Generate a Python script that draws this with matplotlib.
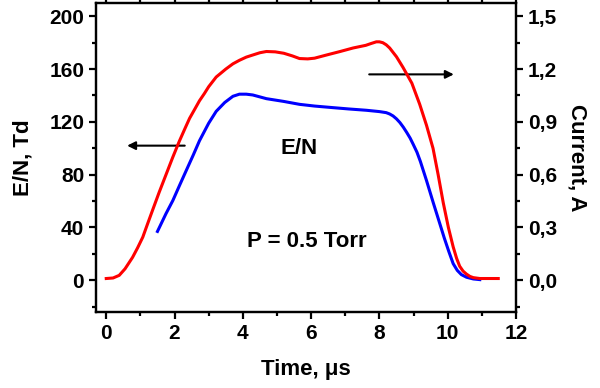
import matplotlib.pyplot as plt
from matplotlib.ticker import MultipleLocator, FuncFormatter

plt.rcParams['font.family'] = ['Liberation Sans', 'DejaVu Sans']
plt.rcParams['font.weight'] = 'bold'
plt.rcParams['font.size'] = 15

# E/N (Td) vs time (us)
t_en = [1.5, 1.75, 1.95, 2.14, 2.34, 2.55, 2.73, 3.0, 3.22, 3.47, 3.71, 3.9, 4.1,
        4.29, 4.69, 5.2, 5.66, 6.1, 6.64, 7.1, 7.62, 8.0, 8.2, 8.3, 8.4, 8.5,
        8.6, 8.7, 8.8, 8.9, 8.99, 9.1, 9.2, 9.38, 9.58, 9.77, 9.9, 10.03, 10.16,
        10.28, 10.4, 10.55, 10.75, 10.94]
en = [37, 50.5, 60.4, 71.5, 83, 95, 105.7, 119, 128, 134.7, 139.4, 141, 141,
      140.4, 137.6, 135.5, 133.3, 132, 130.8, 129.8, 128.8, 127.8, 127, 126,
      124.5, 122.3, 119.5, 116, 112, 107.7, 103, 97, 90, 75.5, 58.5, 42.8, 32,
      22, 12.6, 7.5, 4.3, 2.3, 1, 0.5]

# Current (A) vs time (us)
t_cur = [0.0, 0.2, 0.38, 0.55, 0.77, 0.92, 1.07, 1.2, 1.36, 1.55, 1.75, 1.95,
         2.14, 2.3, 2.44, 2.6, 2.73, 2.87, 3.0, 3.22, 3.5, 3.71, 3.9, 4.1, 4.29,
         4.5, 4.69, 4.95, 5.2, 5.45, 5.66, 5.9, 6.1, 6.45, 6.85, 7.23, 7.6, 7.75,
         7.91, 8.0, 8.1, 8.2, 8.3, 8.5, 8.69, 8.95, 9.18, 9.38, 9.57, 9.72, 9.87,
         10.02, 10.16, 10.26, 10.35, 10.45, 10.55, 10.65, 10.75, 10.94, 11.2, 11.48]
cur = [0.01, 0.013, 0.028, 0.065, 0.13, 0.185, 0.245, 0.315, 0.40, 0.50, 0.60, 0.70,
       0.79, 0.86, 0.92, 0.975, 1.02, 1.06, 1.1, 1.155, 1.2, 1.23, 1.25, 1.268,
       1.28, 1.293, 1.30, 1.298, 1.29, 1.275, 1.26, 1.258, 1.262, 1.28, 1.30,
       1.32, 1.335, 1.345, 1.355, 1.355, 1.35, 1.338, 1.32, 1.27, 1.21, 1.12,
       1.0, 0.88, 0.75, 0.6, 0.44, 0.3, 0.19, 0.125, 0.08, 0.052, 0.035, 0.022,
       0.015, 0.01, 0.01, 0.01]

fig = plt.figure(figsize=(6, 3.88), dpi=100)
ax = fig.add_axes([0.16, 0.196, 0.70, 0.796])
ax2 = ax.twinx()

ax.plot(t_en, en, color='#0000ff', lw=2.2)
ax2.plot(t_cur, cur, color='#ff0000', lw=2.2)

ax.set_xlim(-0.3, 12)
ax.set_ylim(-24, 210)
ax2.set_ylim(-24 * 0.0075, 210 * 0.0075)

ax.xaxis.set_major_locator(MultipleLocator(2))
ax.xaxis.set_minor_locator(MultipleLocator(1))
ax.yaxis.set_major_locator(MultipleLocator(40))
ax.yaxis.set_minor_locator(MultipleLocator(20))
ax2.yaxis.set_major_locator(MultipleLocator(0.3))
ax2.yaxis.set_minor_locator(MultipleLocator(0.15))
ax2.yaxis.set_major_formatter(FuncFormatter(lambda v, p: ('%.1f' % v).replace('.', ',')))

for a in (ax, ax2):
    for s in a.spines.values():
        s.set_linewidth(1.6)
ax.tick_params(which='major', length=5, width=1.6, direction='out')
ax.tick_params(which='minor', length=3, width=1.6, direction='out')
ax.tick_params(axis='x', top=True, which='both')
ax2.tick_params(which='major', length=5, width=1.6, direction='out')
ax2.tick_params(which='minor', length=3, width=1.6, direction='out')

ax.set_xlabel('Time, μs', fontweight='bold', fontsize=16, labelpad=12)
ax.set_ylabel('E/N, Td', fontweight='bold', fontsize=16, labelpad=11)
ax2.set_ylabel('Current, A', fontweight='bold', fontsize=16, rotation=270, labelpad=22)

ax.annotate('', xy=(0.53, 102), xytext=(2.38, 102),
            arrowprops=dict(arrowstyle='-|>', color='black', lw=1.5, mutation_scale=12))
ax.annotate('', xy=(10.26, 156), xytext=(7.62, 156),
            arrowprops=dict(arrowstyle='-|>', color='black', lw=1.5, mutation_scale=12))
ax.text(5.66, 100, 'E/N', ha='center', va='center', fontweight='bold', fontsize=16)
ax.text(5.86, 29, 'P = 0.5 Torr', ha='center', va='center', fontweight='bold', fontsize=16)

fig.savefig('out.png', dpi=100)
